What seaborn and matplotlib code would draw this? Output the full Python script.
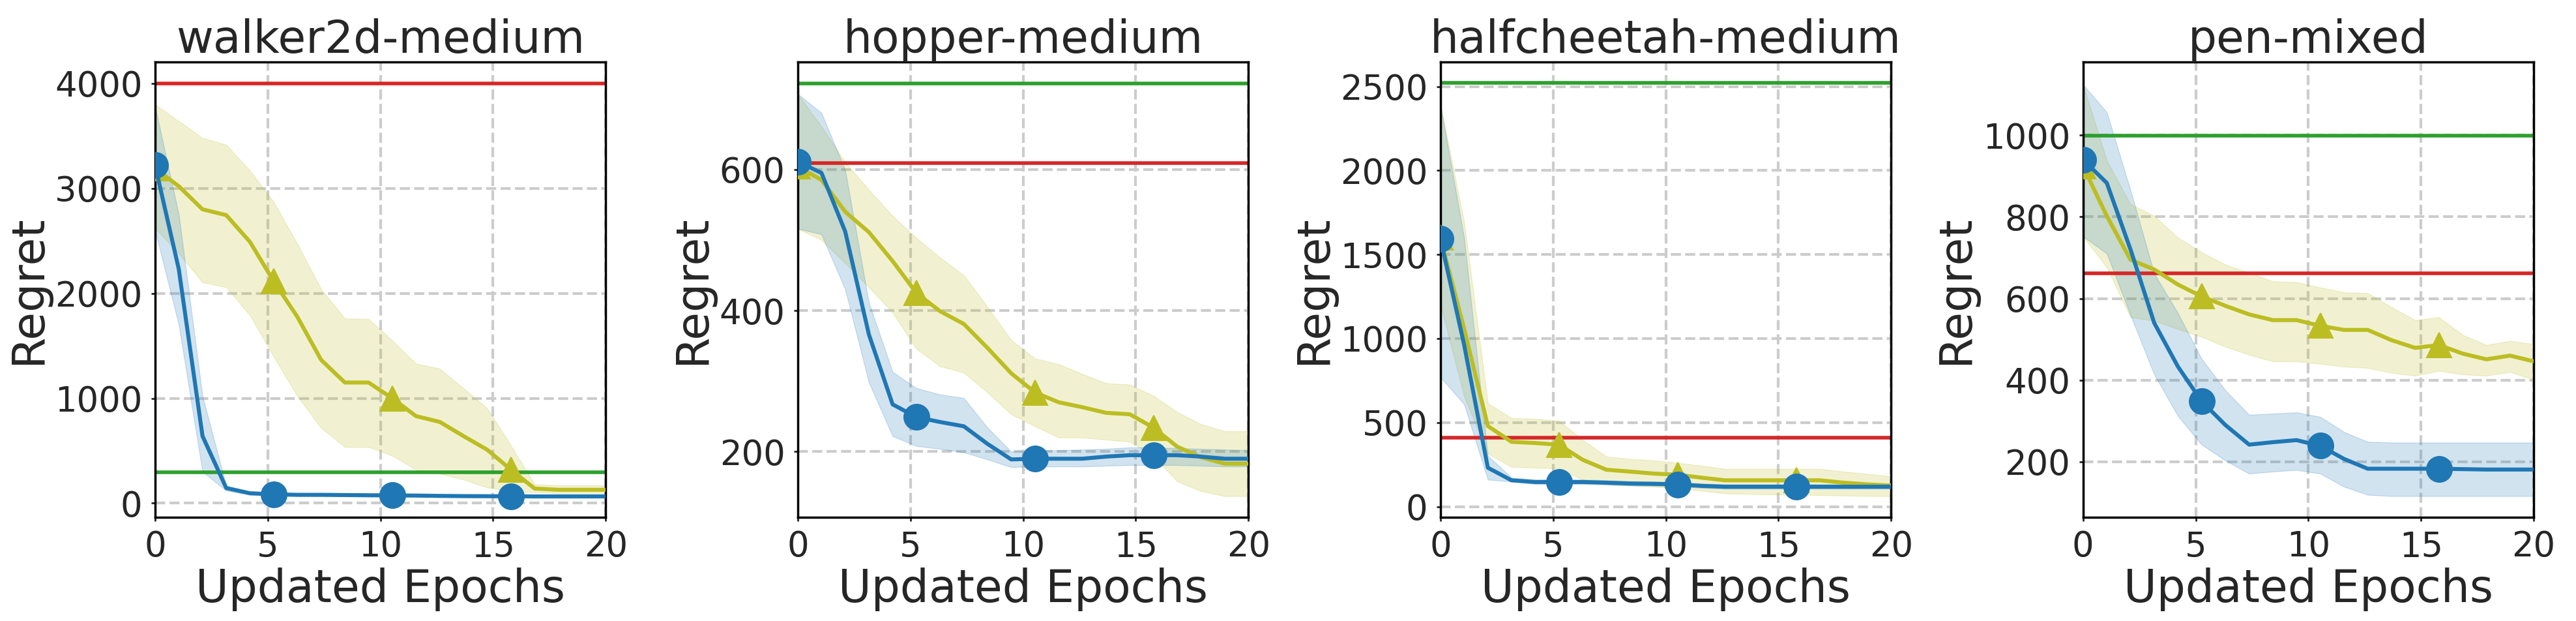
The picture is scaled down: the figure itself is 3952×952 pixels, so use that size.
import numpy as np
import seaborn as sns
import matplotlib
matplotlib.use("Agg")
import matplotlib.pyplot as plt

# x positions: 20 evaluation points over 0..20 updated epochs
epochs = np.linspace(0, 20, 20)

titles = ['walker2d-medium', 'hopper-medium', 'halfcheetah-medium', 'pen-mixed']

# blue method (circles)
walker_blue = [3220, 2230, 640, 145, 95, 85, 80, 80, 78, 76, 75, 73, 70, 68, 67, 66, 65, 65, 65, 65]
walker_blue_hi = [3780, 2750, 1020, 165, 110, 100, 95, 95, 92, 90, 88, 86, 83, 80, 79, 78, 77, 77, 77, 77]
walker_blue_lo = [2600, 1700, 300, 120, 80, 72, 68, 68, 66, 64, 63, 61, 58, 56, 55, 54, 53, 53, 53, 53]
hopper_blue = [611, 595, 512, 366, 267, 249, 242, 236, 211, 189, 190, 190, 190, 193, 195, 195, 195, 193, 190, 190]
hopper_blue_hi = [707, 680, 599, 411, 313, 290, 281, 276, 234, 200, 202, 202, 203, 204, 206, 206, 205, 204, 203, 202]
hopper_blue_lo = [516, 508, 430, 298, 222, 208, 204, 199, 189, 178, 179, 179, 179, 180, 181, 181, 181, 180, 179, 179]
cheetah_blue = [1595, 963, 231, 156, 146, 146, 146, 142, 137, 135, 132, 123, 118, 118, 118, 118, 118, 118, 118, 118]
cheetah_blue_hi = [2390, 1600, 302, 172, 160, 160, 160, 156, 151, 149, 146, 137, 132, 132, 132, 132, 132, 132, 132, 132]
cheetah_blue_lo = [770, 609, 160, 149, 134, 134, 134, 130, 125, 123, 120, 111, 106, 106, 106, 106, 106, 106, 106, 106]
pen_blue = [940, 883, 720, 540, 433, 348, 290, 242, 248, 253, 239, 207, 183, 183, 183, 183, 182, 181, 181, 181]
pen_blue_hi = [1124, 1056, 865, 661, 564, 452, 375, 315, 318, 321, 310, 273, 249, 247, 247, 247, 247, 247, 247, 247]
pen_blue_lo = [752, 710, 559, 414, 312, 242, 203, 171, 176, 180, 171, 139, 119, 116, 116, 116, 116, 116, 116, 116]

# olive method (triangles)
walker_olive = [3190, 3020, 2800, 2745, 2490, 2115, 1775, 1366, 1150, 1150, 1000, 830, 775, 640, 510, 320, 140, 128, 128, 128]
walker_olive_hi = [3800, 3640, 3480, 3415, 3170, 2870, 2470, 2040, 1760, 1755, 1550, 1330, 1283, 1095, 905, 550, 180, 170, 170, 170]
walker_olive_lo = [2620, 2380, 2105, 2057, 1790, 1396, 1020, 717, 536, 536, 453, 320, 283, 226, 150, 113, 105, 95, 95, 95]
hopper_olive = [604, 585, 540, 511, 470, 425, 399, 381, 347, 311, 284, 270, 263, 255, 253, 234, 207, 192, 183, 183]
hopper_olive_hi = [707, 661, 610, 571, 534, 503, 475, 450, 405, 358, 332, 324, 310, 297, 295, 279, 256, 239, 229, 229]
hopper_olive_lo = [516, 500, 467, 433, 397, 346, 321, 312, 284, 253, 236, 220, 220, 217, 214, 194, 158, 144, 137, 137]
cheetah_olive = [1600, 1057, 479, 385, 378, 368, 278, 219, 208, 196, 189, 172, 156, 156, 156, 156, 156, 142, 132, 125]
cheetah_olive_hi = [2390, 1694, 614, 526, 522, 510, 396, 297, 283, 274, 260, 243, 224, 224, 224, 224, 224, 208, 194, 179]
cheetah_olive_lo = [1200, 656, 314, 236, 231, 227, 160, 132, 125, 118, 109, 94, 78, 75, 72, 70, 68, 65, 63, 61]
pen_olive = [923, 802, 695, 671, 634, 605, 582, 561, 547, 547, 533, 523, 523, 498, 479, 486, 465, 451, 460, 446]
pen_olive_hi = [1124, 938, 831, 802, 749, 713, 683, 663, 642, 640, 627, 615, 613, 579, 547, 554, 511, 486, 496, 488]
pen_olive_lo = [752, 676, 554, 545, 525, 506, 482, 462, 446, 446, 440, 433, 430, 418, 411, 423, 414, 411, 420, 401]

# horizontal reference levels
red_levels = [4000, 609, 408, 661]
green_levels = [295, 722, 2520, 998]

y_limits = [(-134, 4203), (107, 752), (-64, 2645), (64, 1179)]
y_ticks = [[0, 1000, 2000, 3000, 4000], [200, 400, 600],
           [0, 500, 1000, 1500, 2000, 2500], [200, 400, 600, 800, 1000]]

blue_runs = [(walker_blue, walker_blue_lo, walker_blue_hi), (hopper_blue, hopper_blue_lo, hopper_blue_hi),
             (cheetah_blue, cheetah_blue_lo, cheetah_blue_hi), (pen_blue, pen_blue_lo, pen_blue_hi)]
olive_runs = [(walker_olive, walker_olive_lo, walker_olive_hi), (hopper_olive, hopper_olive_lo, hopper_olive_hi),
              (cheetah_olive, cheetah_olive_lo, cheetah_olive_hi), (pen_olive, pen_olive_lo, pen_olive_hi)]

sns.set_style("ticks")
plt.rcParams['font.family'] = 'DejaVu Sans'
plt.rcParams['axes.linewidth'] = 1.25
plt.rcParams['axes.edgecolor'] = 'black'

BLUE = '#1f77b4'
OLIVE = '#bcbd22'
RED = '#d62728'
GREEN = '#2ca02c'

fig, axes = plt.subplots(1, 4, figsize=(19.76, 4.76), dpi=200)
plt.subplots_adjust(left=0.0602, right=0.9836, bottom=0.167, top=0.90, wspace=0.426)

for i, ax in enumerate(axes):
    ax.axhline(red_levels[i], color=RED, linewidth=2, zorder=2)
    ax.axhline(green_levels[i], color=GREEN, linewidth=2, zorder=2)

    mean, lo, hi = olive_runs[i]
    ax.fill_between(epochs, lo, hi, color=OLIVE, alpha=0.2, linewidth=0.5)
    sns.lineplot(x=epochs, y=mean, ax=ax, color=OLIVE, linewidth=2.2, marker='^',
                 markersize=14, markevery=5, markeredgecolor=OLIVE, zorder=3)

    mean, lo, hi = blue_runs[i]
    ax.fill_between(epochs, lo, hi, color=BLUE, alpha=0.2, linewidth=0.5)
    sns.lineplot(x=epochs, y=mean, ax=ax, color=BLUE, linewidth=2.2, marker='o',
                 markersize=14, markevery=5, markeredgecolor=BLUE, zorder=4)

    ax.set_xlim(0, 20)
    ax.set_ylim(*y_limits[i])
    ax.set_xticks([0, 5, 10, 15, 20])
    ax.set_yticks(y_ticks[i])
    ax.grid(True, linestyle='--', color='#cccccc', linewidth=1.5)
    ax.set_axisbelow(True)
    ax.tick_params(labelsize=19, length=2, width=1, pad=5)
    ax.set_title(titles[i], fontsize=25, pad=4)
    ax.set_xlabel('Updated Epochs', fontsize=25, labelpad=2)
    ax.set_ylabel('Regret', fontsize=25, labelpad=3)
    for s in ax.spines.values():
        s.set_color('black')
        s.set_linewidth(1.25)

fig.savefig('out.png', dpi=200)
